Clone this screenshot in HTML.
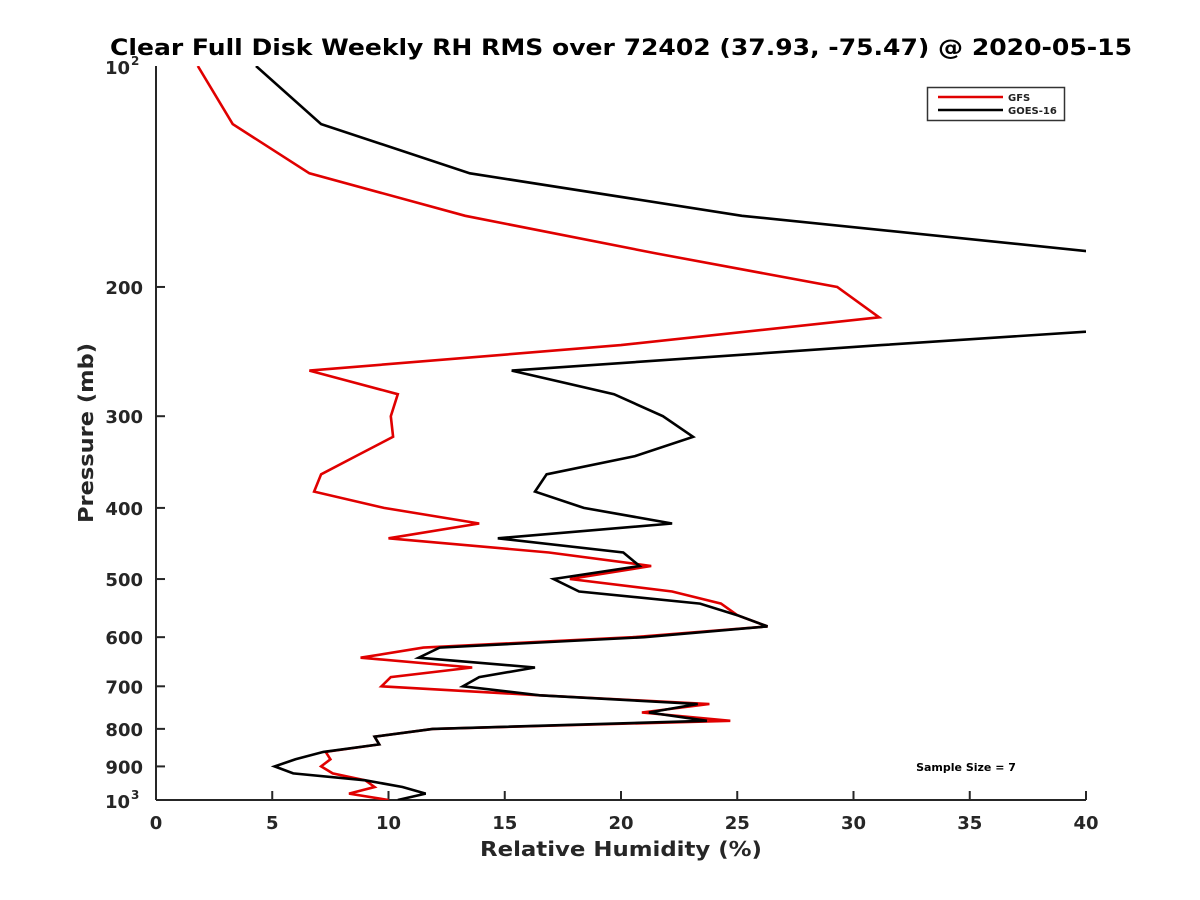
<!DOCTYPE html>
<html><head><meta charset="utf-8"><style>
html,body{margin:0;padding:0;background:#fff;}
svg{display:block;font-family:"DejaVu Sans","Liberation Sans",sans-serif;}
</style></head><body>
<svg id="chart" width="1200" height="900" viewBox="0 0 1200 900">
<text x="110" y="55" textLength="1022" lengthAdjust="spacingAndGlyphs" font-size="22" font-weight="bold" fill="#000">Clear Full Disk Weekly RH RMS over 72402 (37.93, -75.47) @ 2020-05-15</text>
<defs><clipPath id="plotclip"><rect x="156" y="66" width="930" height="734"/></clipPath></defs>
<g id="axes"></g>
<g id="series" clip-path="url(#plotclip)"></g>
<g>
<rect x="927.5" y="87.5" width="137" height="33" fill="#fff" stroke="#333" stroke-width="1.5"/>
<line x1="938" y1="97" x2="1003" y2="97" stroke="#e00000" stroke-width="2.5"/>
<text x="1008" y="101" font-size="10" font-weight="bold" fill="#222">GFS</text>
<line x1="938" y1="110" x2="1003" y2="110" stroke="#000" stroke-width="2.5"/>
<text x="1008" y="114" font-size="10" font-weight="bold" fill="#222">GOES-16</text>
</g>
<text x="966" y="771" text-anchor="middle" font-size="11" font-weight="bold" fill="#000">Sample Size = 7</text>
<text x="480" y="856" textLength="282" lengthAdjust="spacingAndGlyphs" font-size="20" font-weight="bold" fill="#262626">Relative Humidity (%)</text>
<text transform="translate(93,523) rotate(-90)" textLength="180" lengthAdjust="spacingAndGlyphs" font-size="20" font-weight="bold" fill="#262626">Pressure (mb)</text>
</svg>
<script>
const pressures = [100,120,140,160,180,200,220,240,260,280,300,320,340,360,380,400,420,440,460,480,500,520,540,560,580,600,620,640,660,680,700,720,740,760,780,800,820,840,860,880,900,920,940,960,980,1000];
const gfsRms = [1.8,3.3,6.6,13.3,21.5,29.3,31.1,20.0,6.6,10.4,10.1,10.2,8.6,7.1,6.8,9.8,13.9,10.0,16.9,21.3,17.8,22.2,24.3,25.0,26.3,20.5,11.5,8.8,13.6,10.1,9.7,16.5,23.8,20.9,24.7,11.9,9.4,9.6,7.3,7.5,7.1,7.6,9.0,9.4,8.3,10.0];
const goesRms = [4.3,7.1,13.5,25.2,41,60,49.4,31.2,15.3,19.7,21.8,23.1,20.6,16.8,16.3,18.4,22.2,14.7,20.1,20.8,17.1,18.2,23.4,25.0,26.3,21.0,12.2,11.3,16.3,13.9,13.2,16.5,23.3,21.2,23.7,11.9,9.4,9.6,7.2,6.0,5.1,5.9,9.0,10.6,11.6,10.4];
const xTicks = [0,5,10,15,20,25,30,35,40];
const yTicks = [200,300,400,500,600,700,800,900];

const NS = "http://www.w3.org/2000/svg";
const X0 = 156, X1 = 1086, Y0 = 66, Y1 = 800;
function xs(v){ return X0 + (v - 0) / 40 * (X1 - X0); }
function ys(p){ return Y0 + (Math.log10(p) - 2) * (Y1 - Y0); }
function mk(tag, attrs, parent){ const e = document.createElementNS(NS, tag); for (const k in attrs) e.setAttribute(k, attrs[k]); parent.appendChild(e); return e; }

const axes = document.getElementById('axes');
const series = document.getElementById('series');

const ly = mk('line', {x1:X0, y1:Y0, x2:X0, y2:Y1, stroke:'#262626', 'stroke-width':2}, axes);


const lx = mk('line', {x1:X0, y1:Y1, x2:X1, y2:Y1, stroke:'#262626', 'stroke-width':2}, axes);



xTicks.forEach(t => {
  const x = xs(t);
  const tk = mk('line', {x1:x, y1:Y1, x2:x, y2:Y1-9, stroke:'#262626', 'stroke-width':2}, axes);
  
  
  const lb = mk('text', {x:x, y:829, 'text-anchor':'middle', 'font-size':18, 'font-weight':'bold', fill:'#262626'}, axes);
  lb.textContent = String(t);
  
  
});

yTicks.forEach(t => {
  const y = ys(t);
  const tk = mk('line', {x1:X0, y1:y, x2:X0+9, y2:y, stroke:'#262626', 'stroke-width':2}, axes);
  
  
  const lb = mk('text', {x:143, y:y+7, 'text-anchor':'end', 'font-size':18, 'font-weight':'bold', fill:'#262626'}, axes);
  lb.textContent = String(t);
  
  
});
[[100,'2'],[1000,'3']].forEach(([p,e]) => {
  const y = ys(p);
  const lb = mk('text', {x:130, y:y+8, 'text-anchor':'end', 'font-size':18, 'font-weight':'bold', fill:'#262626'}, axes);
  lb.textContent = '10';
  
  
  const sp = mk('text', {x:131, y:y-1, 'font-size':12, 'font-weight':'bold', fill:'#262626'}, axes);
  sp.textContent = e;
  
  
});

function drawLine(vals, color, name){
  const pts = vals.map((v,i) => xs(v).toFixed(1) + ',' + ys(pressures[i]).toFixed(1)).join(' ');
  const pl = mk('polyline', {points:pts, fill:'none', stroke:color, 'stroke-width':2.6, 'stroke-linejoin':'miter'}, series);
  
  
}
drawLine(gfsRms, '#e00000', 'gfs-line');
drawLine(goesRms, '#000000', 'goes16-line');
</script>
</body></html>
